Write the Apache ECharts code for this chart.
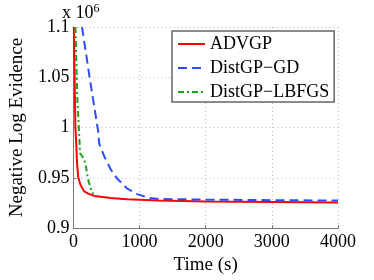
<!DOCTYPE html>
<html><head><meta charset="utf-8">
<script src="https://cdn.jsdelivr.net/npm/echarts@6/dist/echarts.min.js"></script>
<style>html,body{margin:0;padding:0;background:#fff}#c{width:374px;height:280px}</style>
</head><body><div id="c"></div>
<script>
var seriesNames = ['ADVGP', 'DistGP\u2212GD', 'DistGP\u2212LBFGS'];
var advgp = [[7,1.1],[30,1.0],[43,0.984],[50,0.972],[58,0.962],[72,0.951],[101,0.944],[159,0.9368],[231,0.934],[318,0.932],[563,0.930],[809,0.9288],[1285,0.9274],[2000,0.9264],[3000,0.926],[4000,0.9255]];
var distgpGD = [[130,1.1],[245,1.05],[375,0.996],[390,0.984],[462,0.972],[563,0.9585],[664,0.949],[809,0.9396],[953,0.934],[1141,0.930],[1285,0.929],[2000,0.9283],[3000,0.9278],[4000,0.9274]];
var distgpLBFGS = [[30,1.1],[58,1.031],[87,0.993],[101,0.9745],[130,0.9717],[159,0.969],[188,0.962],[202,0.9557],[231,0.946],[245,0.9434],[274,0.9368],[303,0.934]];
var yTicks = ['0.9','0.95','1','1.05','1.1'];
var xTicks = ['0','1000','2000','3000','4000'];

var font = 'Liberation Serif';
var tickRich = {t:{fontFamily:font, fontSize:18, color:'#000'}};
var chart = echarts.init(document.getElementById('c'), null, {renderer:'canvas'});
chart.setOption({
  animation:false,
  backgroundColor:'#fff',
  textStyle:{fontFamily:font},
  grid:{left:61, right:36, top:27, bottom:41, containLabel:false},
  xAxis:{type:'value', min:0, max:4000, interval:1000,
    name:'Time (s)', nameLocation:'middle', nameGap:26,
    nameTextStyle:{fontFamily:font, fontSize:19, color:'#000'},
    axisLine:{show:true, onZero:false, lineStyle:{color:'#777', width:1}},
    axisTick:{show:true, inside:true, length:3, lineStyle:{color:'#777'}},
    axisLabel:{fontFamily:font, fontSize:18, color:'#000', margin:5, rich:tickRich,
      formatter:function(v){ return '{t|' + xTicks[Math.round(v/1000)] + '}'; }},
    splitLine:{show:true, lineStyle:{type:[1,3], color:'#bbb', width:1}}
  },
  yAxis:{type:'value', min:0.9, max:1.1, interval:0.05,
    name:'Negative Log Evidence', nameLocation:'middle', nameGap:37,
    nameTextStyle:{fontFamily:font, fontSize:19, color:'#000'},
    axisLine:{show:true, onZero:false, lineStyle:{color:'#777', width:1}},
    axisTick:{show:true, inside:true, length:3, lineStyle:{color:'#777'}},
    axisLabel:{fontFamily:font, fontSize:18, color:'#000', margin:4, rich:tickRich,
      formatter:function(v){ var i=Math.round((v-0.9)/0.05); return '{t|' + yTicks[i] + '}'; }},
    splitLine:{show:true, lineStyle:{type:[1,3], color:'#bbb', width:1}}
  },
  legend:{orient:'vertical', left:172, top:31, itemWidth:27, itemHeight:14, itemGap:6,
    padding:[4,5,1,5], borderColor:'#666', borderWidth:1.5, backgroundColor:'#fff',
    textStyle:{fontFamily:font, fontSize:18, lineHeight:16, color:'#000'},
    itemStyle:{opacity:0},
    data:seriesNames},
  graphic:[{type:'text', left:62, top:3, style:{rich:{a:{fontFamily:font,fontSize:18,color:'#000'},b:{fontFamily:font,fontSize:12,color:'#000',verticalAlign:'top',padding:[0,0,8,0]}}, text:'{a|x 10}{b|6}'}}],
  series:[
    {name:seriesNames[0], type:'line', data:advgp, symbol:'none', clip:true,
      lineStyle:{color:'#ff0000', width:2}, itemStyle:{color:'#ff0000'}},
    {name:seriesNames[1], type:'line', data:distgpGD, symbol:'none', clip:true,
      lineStyle:{color:'#2a4cff', width:2, type:[9,5]}, itemStyle:{color:'#2a4cff'}},
    {name:seriesNames[2], type:'line', data:distgpLBFGS, symbol:'none', clip:true,
      lineStyle:{color:'#1aa31a', width:2, type:[6,3,2,3]}, itemStyle:{color:'#1aa31a'}}
  ]
});
</script></body></html>
